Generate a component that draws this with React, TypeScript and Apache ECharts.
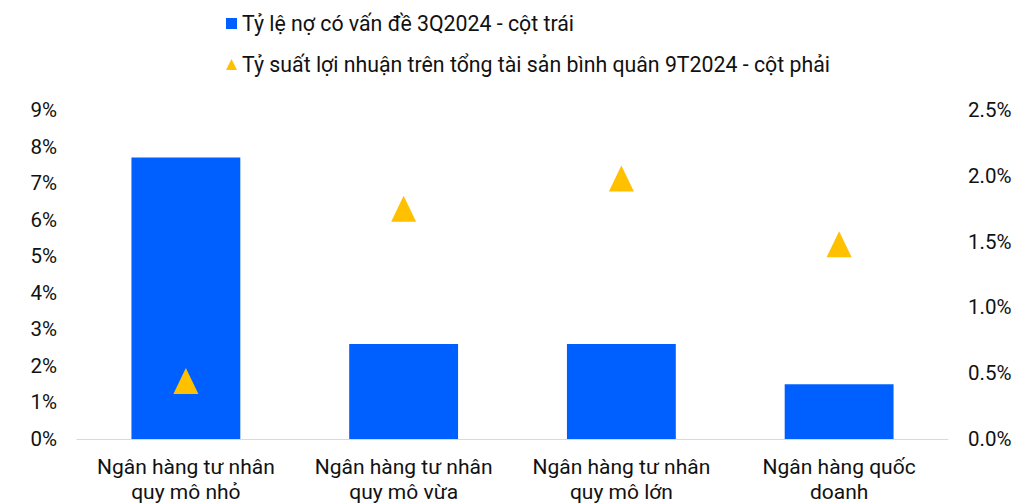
import React, { useEffect, useRef } from "react";
import * as echarts from "echarts";

const categories = [
  "Ngân hàng tư nhân\nquy mô nhỏ",
  "Ngân hàng tư nhân\nquy mô vừa",
  "Ngân hàng tư nhân\nquy mô lớn",
  "Ngân hàng quốc\ndoanh",
];
const badDebt = [7.7, 2.6, 2.6, 1.5];
const roaa = [0.44, 1.75, 1.98, 1.48];
const seriesNames = [
  "Tỷ lệ nợ có vấn đề 3Q2024 - cột trái",
  "Tỷ suất lợi nhuận trên tổng tài sản bình quân 9T2024 - cột phải",
];

export default function App() {
  const ref = useRef<HTMLDivElement>(null);
  useEffect(() => {
    document.body.style.margin = "0";
    const chart = echarts.init(ref.current!, null, { renderer: "svg" });
    const font = "Roboto";
    chart.setOption({
      animation: false,
      textStyle: { fontFamily: font },
      legend: {
        orient: "vertical",
        left: 221,
        top: 8,
        itemGap: 20,
        itemWidth: 11,
        itemHeight: 11,
        textStyle: { fontFamily: font, fontSize: 21.3, color: "#111" },
        data: [
          { name: seriesNames[0], icon: "rect" },
          { name: seriesNames[1], icon: "triangle" },
        ],
      },
      grid: { left: 77, right: 86, top: 110, bottom: 64 },
      xAxis: {
        type: "category",
        data: categories,
        axisLine: { lineStyle: { color: "#d9d9d9", width: 1 } },
        axisTick: { show: false },
        axisLabel: {
          fontFamily: font,
          fontSize: 21,
          color: "#111",
          lineHeight: 25,
          margin: 15,
          interval: 0,
        },
      },
      yAxis: [
        {
          type: "value",
          min: 0,
          max: 9,
          interval: 1,
          splitLine: { show: false },
          axisLine: { show: false },
          axisTick: { show: false },
          axisLabel: {
            fontFamily: font,
            fontSize: 20.5,
            color: "#111",
            margin: 20,
            formatter: (v: number) => v + "%",
          },
        },
        {
          type: "value",
          min: 0,
          max: 2.5,
          interval: 0.5,
          splitLine: { show: false },
          axisLine: { show: false },
          axisTick: { show: false },
          axisLabel: {
            fontFamily: font,
            fontSize: 20.5,
            color: "#111",
            margin: 20,
            formatter: (v: number) => v.toFixed(1) + "%",
          },
        },
      ],
      series: [
        {
          name: seriesNames[0],
          type: "bar",
          data: badDebt,
          yAxisIndex: 0,
          barWidth: "50%",
          itemStyle: { color: "#0060FF" },
        },
        {
          name: seriesNames[1],
          type: "scatter",
          data: roaa,
          yAxisIndex: 1,
          symbol: "triangle",
          symbolSize: [25, 26],
          itemStyle: { color: "#FFC000", opacity: 1 },
        },
      ],
    });
    return () => chart.dispose();
  }, []);
  return <div ref={ref} style={{ width: 1034, height: 504 }} />;
}
